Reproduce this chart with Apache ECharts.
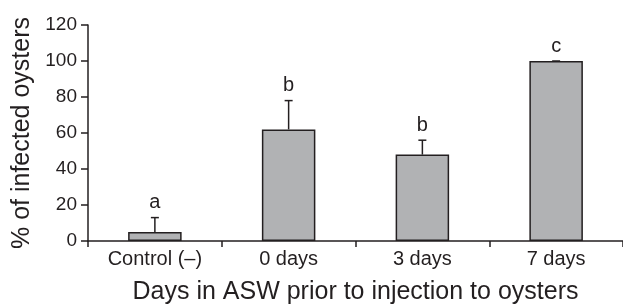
<!DOCTYPE html>
<html>
<head>
<meta charset="utf-8">
<script src="https://cdn.jsdelivr.net/npm/echarts@6/dist/echarts.min.js"></script>
<style>
  html, body { margin: 0; padding: 0; background: #fff; }
  #main { width: 623px; height: 306px; }
</style>
</head>
<body>
<div id="main"></div>
<script>
// data
const categories = ['Control (\u2013)', '0 days', '3 days', '7 days']
const infected = [5, 62, 48, 100]
const errUpper = [13, 78, 56, 100]
const letters = ['a', 'b', 'b', 'c']
const yTicks = [0, 20, 40, 60, 80, 100, 120]

const font = "'Liberation Sans', Arial, Helvetica, sans-serif"
const ink = '#231f20'

const chart = echarts.init(document.getElementById('main'))

const option = {
  animation: false,
  grid: { left: 88, right: 0, top: 25, bottom: 65, containLabel: false, outerBoundsMode: 'none' },
  xAxis: {
    type: 'category',
    data: categories,
    boundaryGap: true,
    name: 'Days in ASW prior to injection to oysters',
    nameLocation: 'middle',
    nameGap: 39,
    nameTextStyle: { fontFamily: font, fontSize: 25, color: ink },
    axisLine: { lineStyle: { color: ink, width: 1.5 } },
    axisTick: { show: true, inside: false, length: 6, lineStyle: { color: ink, width: 1.5 } },
    axisLabel: { fontFamily: font, fontSize: 20, color: ink, margin: 8 }
  },
  yAxis: {
    type: 'value',
    min: yTicks[0],
    max: yTicks[yTicks.length - 1],
    interval: 20,
    name: '% of infected oysters',
    nameLocation: 'middle',
    nameGap: 52,
    nameTextStyle: { fontFamily: font, fontSize: 25, color: ink },
    splitLine: { show: false },
    axisLine: { show: true, lineStyle: { color: ink, width: 1.5 } },
    axisTick: { show: true, length: 7, lineStyle: { color: ink, width: 1.5 } },
    axisLabel: { fontFamily: font, fontSize: 19, color: ink, margin: 11 }
  },
  series: [
    {
      type: 'bar',
      data: infected,
      barWidth: '40%',
      itemStyle: { color: '#b1b2b4', borderColor: ink, borderWidth: 1.5 },
      z: 2
    },
    {
      type: 'custom',
      data: infected.map((v, i) => [i, v, errUpper[i]]),
      renderItem: (params, api) => {
        const base = api.coord([api.value(0), api.value(1)])
        const top = api.coord([api.value(0), api.value(2)])
        const half = 4
        return {
          type: 'group',
          children: [
            { type: 'line', shape: { x1: base[0], y1: base[1], x2: top[0], y2: top[1] },
              style: { stroke: ink, lineWidth: 1.5 } },
            { type: 'line', shape: { x1: top[0] - half, y1: top[1], x2: top[0] + half, y2: top[1] },
              style: { stroke: ink, lineWidth: 1.5 } },
            { type: 'text', x: top[0], y: top[1] - 5,
              style: { text: letters[params.dataIndex], fill: ink, font: '20px ' + font,
                       align: 'center', verticalAlign: 'bottom' } }
          ]
        }
      },
      z: 3
    }
  ]
}

chart.setOption(option)
</script>
</body>
</html>
